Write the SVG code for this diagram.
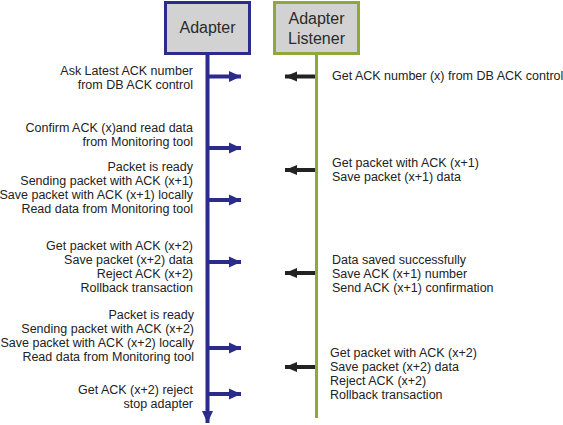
<svg xmlns="http://www.w3.org/2000/svg" width="563" height="425" viewBox="0 0 563 425">
<style>
.box{fill:#d2d2d2;stroke-width:3}
.bt{font-family:"Liberation Sans",Arial,sans-serif;font-size:16px;fill:#2a2a2a;text-anchor:middle}
.lt{font-family:"Liberation Sans",Arial,sans-serif;font-size:12.5px;fill:#222;text-anchor:end}
.rt{font-family:"Liberation Sans",Arial,sans-serif;font-size:12.5px;fill:#222;text-anchor:start}
.ra{stroke:#2b2b8c;stroke-width:4;fill:none}
.la{stroke:#222;stroke-width:4;fill:none}
</style>
<defs>
<marker id="hb" markerUnits="userSpaceOnUse" markerWidth="12" markerHeight="12" refX="12" refY="6" orient="auto"><path d="M0,0.5 L12,6 L0,11.5 Z" fill="#2b2b8c"/></marker>
<marker id="hk" markerUnits="userSpaceOnUse" markerWidth="12" markerHeight="12" refX="12" refY="6" orient="auto"><path d="M0,1 L12,6 L0,11 Z" fill="#222"/></marker>
</defs>
<g id="adapter">
<rect class="box" x="165.5" y="2.5" width="84" height="51" stroke="#2b2b8c"/>
<text class="bt" x="207.5" y="33">Adapter</text>
</g>
<g id="listener">
<rect class="box" x="274.5" y="2.5" width="84" height="51" stroke="#8fa83c"/>
<text class="bt" x="316.5" y="24">Adapter</text>
<text class="bt" x="316.5" y="44">Listener</text>
</g>
<g id="connectors">
<line x1="207.5" y1="55" x2="207.5" y2="423" stroke="#2b2b8c" stroke-width="4" marker-end="url(#hb)"/>
<line x1="316.5" y1="55" x2="316.5" y2="418" stroke="#8fa83c" stroke-width="3"/>
<line class="ra" x1="209" y1="76.5" x2="241" y2="76.5" marker-end="url(#hb)"/>
<line class="ra" x1="209" y1="148" x2="241" y2="148" marker-end="url(#hb)"/>
<line class="ra" x1="209" y1="200" x2="241" y2="200" marker-end="url(#hb)"/>
<line class="ra" x1="209" y1="262" x2="241" y2="262" marker-end="url(#hb)"/>
<line class="ra" x1="209" y1="348" x2="241" y2="348" marker-end="url(#hb)"/>
<line class="ra" x1="209" y1="394" x2="241" y2="394" marker-end="url(#hb)"/>
<line class="la" x1="315" y1="76.5" x2="285" y2="76.5" marker-end="url(#hk)"/>
<line class="la" x1="315" y1="170" x2="285" y2="170" marker-end="url(#hk)"/>
<line class="la" x1="315" y1="273" x2="285" y2="273" marker-end="url(#hk)"/>
<line class="la" x1="315" y1="367" x2="285" y2="367" marker-end="url(#hk)"/>
</g>
<g id="left-labels">
<text class="lt" x="193" y="75">Ask Latest ACK number</text>
<text class="lt" x="193" y="89">from DB ACK control</text>
<text class="lt" x="193" y="132">Confirm ACK (x)and read data</text>
<text class="lt" x="193" y="146">from Monitoring tool</text>
<text class="lt" x="193" y="171">Packet is ready</text>
<text class="lt" x="193" y="185">Sending packet with ACK (x+1)</text>
<text class="lt" x="193" y="199">Save packet with ACK (x+1) locally</text>
<text class="lt" x="193" y="213">Read data from Monitoring tool</text>
<text class="lt" x="193" y="250">Get packet with ACK (x+2)</text>
<text class="lt" x="193" y="264">Save packet (x+2) data</text>
<text class="lt" x="193" y="278">Reject ACK (x+2)</text>
<text class="lt" x="193" y="292">Rollback transaction</text>
<text class="lt" x="194" y="319">Packet is ready</text>
<text class="lt" x="194" y="333">Sending packet with ACK (x+2)</text>
<text class="lt" x="194" y="347">Save packet with ACK (x+2) locally</text>
<text class="lt" x="194" y="361">Read data from Monitoring tool</text>
<text class="lt" x="193" y="394">Get ACK (x+2) reject</text>
<text class="lt" x="193" y="408">stop adapter</text>
</g>
<g id="right-labels">
<text class="rt" x="332" y="80">Get ACK number (x) from DB ACK control</text>
<text class="rt" x="332" y="167">Get packet with ACK (x+1)</text>
<text class="rt" x="332" y="181">Save packet (x+1) data</text>
<text class="rt" x="332" y="264">Data saved successfully</text>
<text class="rt" x="332" y="278">Save ACK (x+1) number</text>
<text class="rt" x="332" y="292">Send ACK (x+1) confirmation</text>
<text class="rt" x="330" y="357">Get packet with ACK (x+2)</text>
<text class="rt" x="330" y="371">Save packet (x+2) data</text>
<text class="rt" x="330" y="385">Reject ACK (x+2)</text>
<text class="rt" x="330" y="399">Rollback transaction</text>
</g>
</svg>
